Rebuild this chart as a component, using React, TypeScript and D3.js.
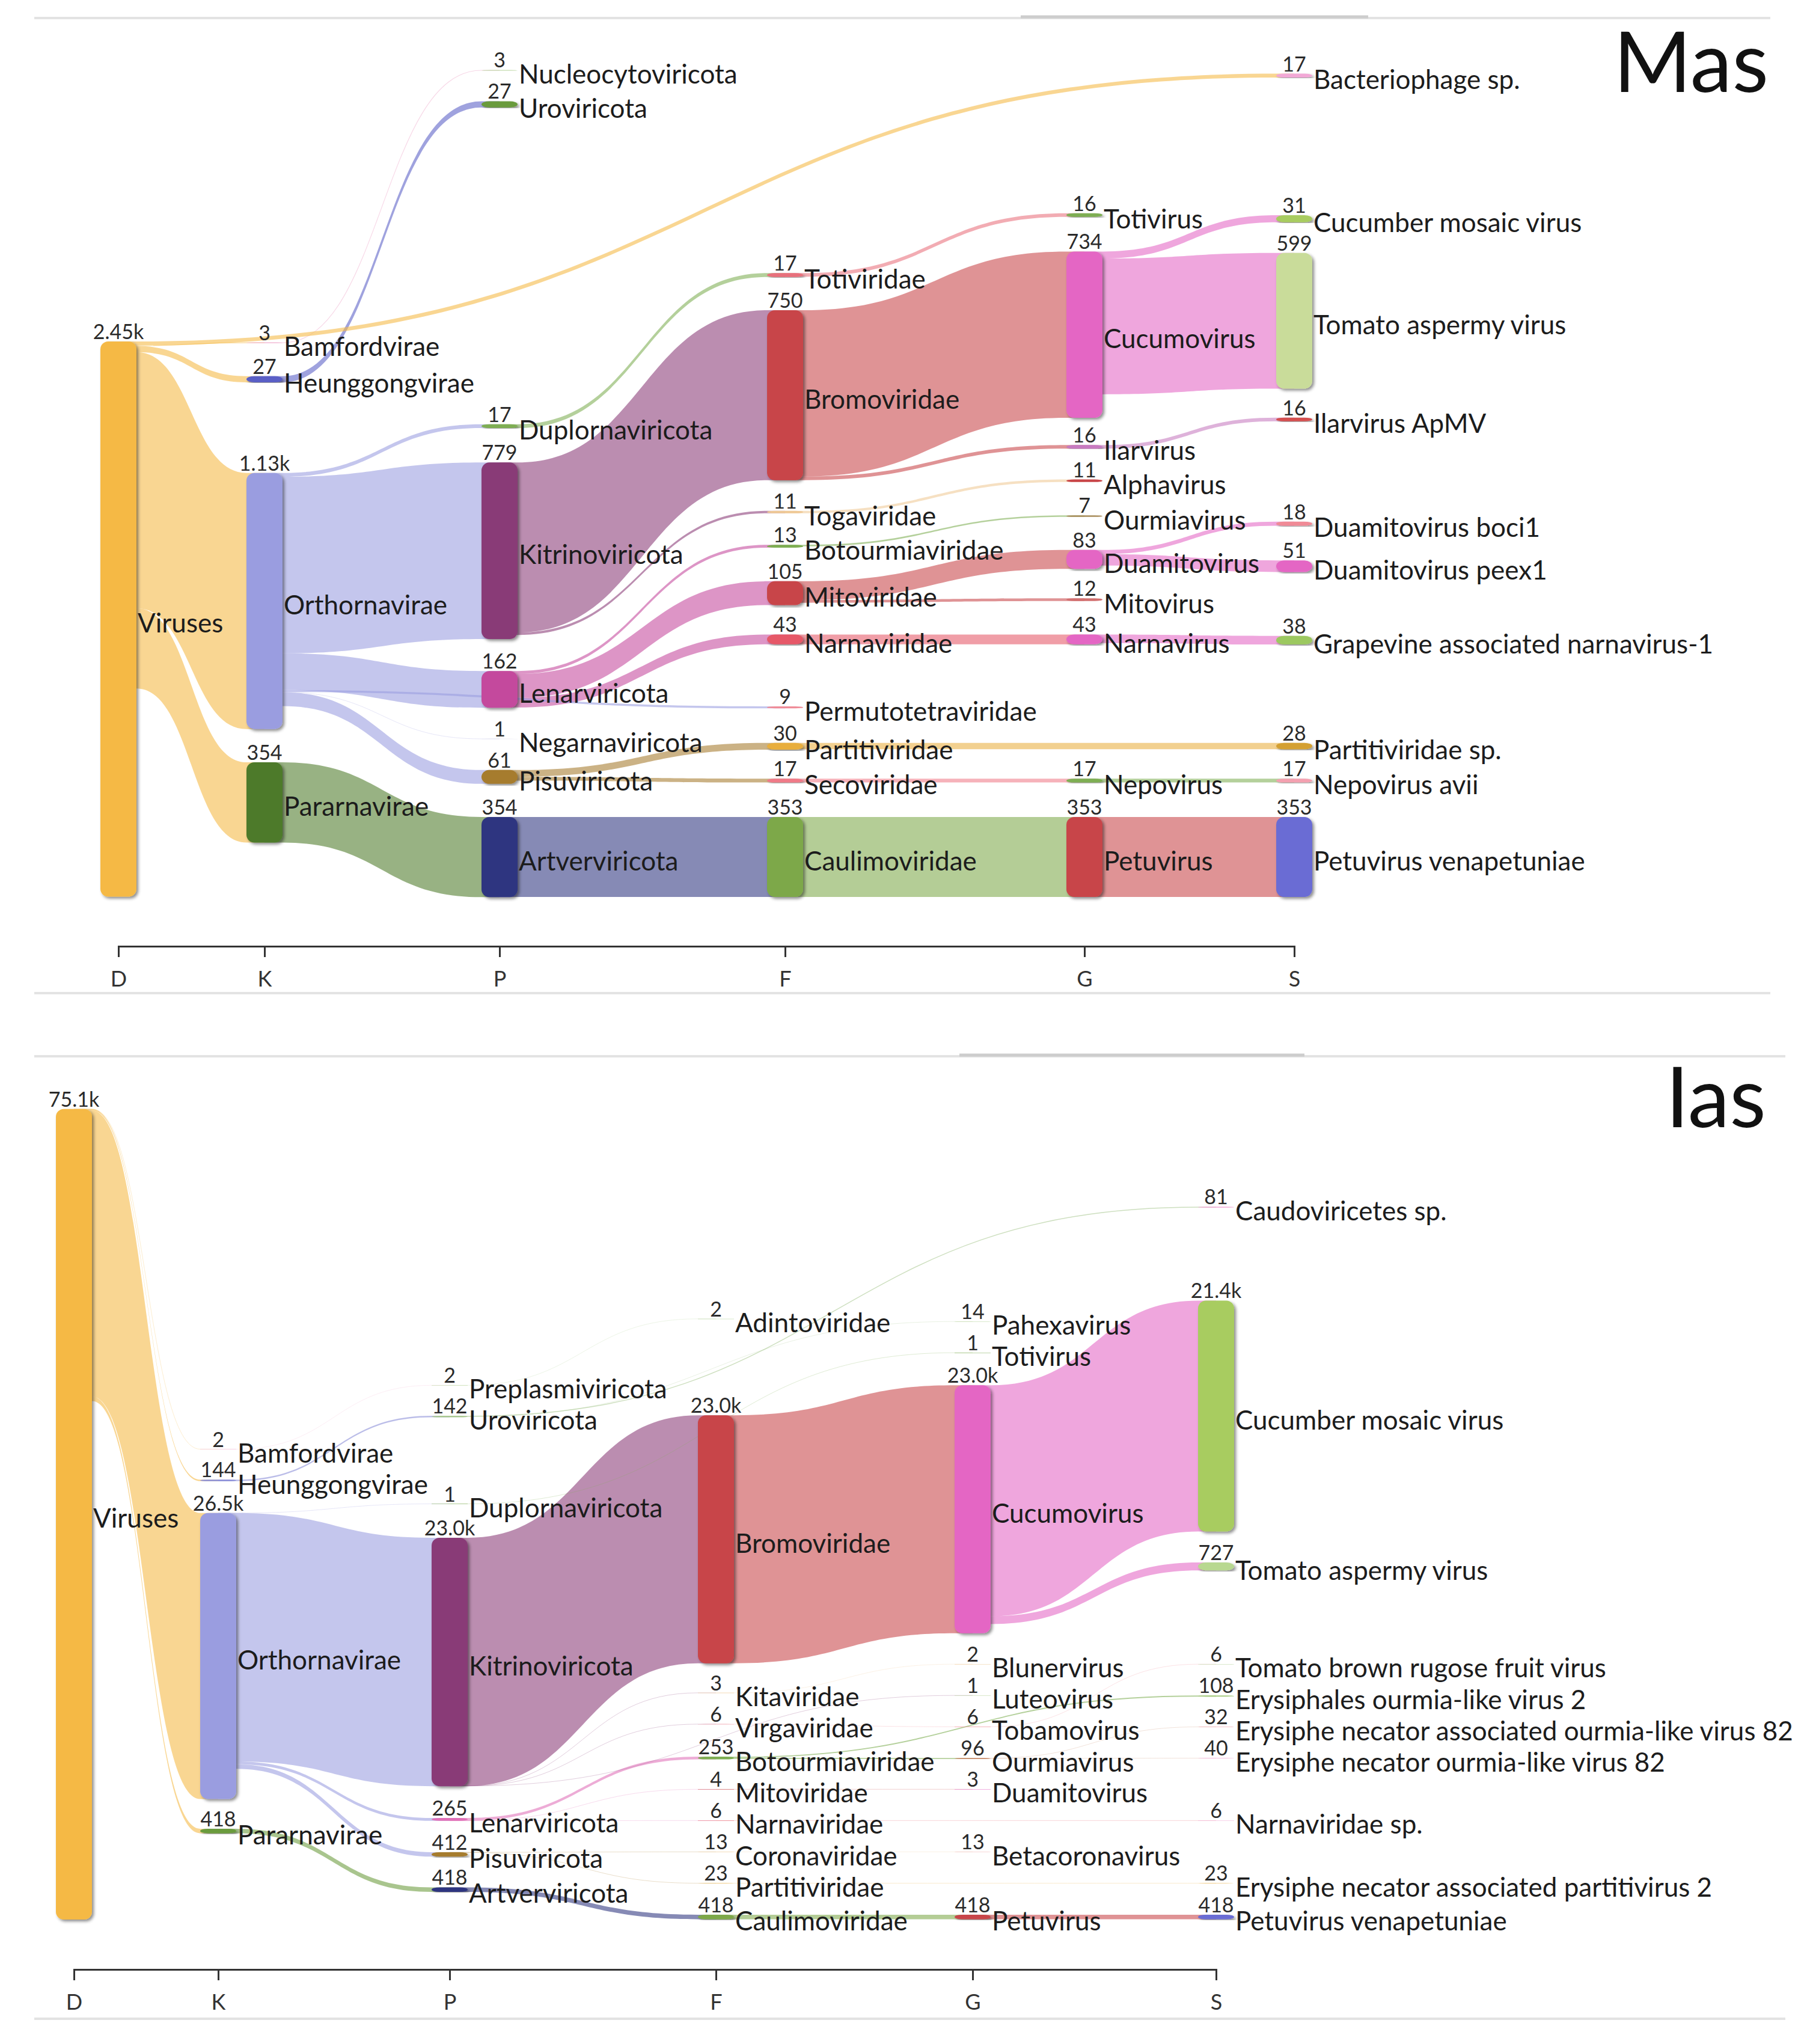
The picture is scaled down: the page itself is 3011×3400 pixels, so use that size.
import React, { useEffect, useRef } from "react";
import * as d3 from "d3";

const RANKS = ["D", "K", "P", "F", "G", "S"];

// ---------------- Mas ----------------
const masNames = [
  "Viruses",
  "Bamfordvirae", "Heunggongvirae", "Orthornavirae", "Pararnavirae",
  "Nucleocytoviricota", "Uroviricota", "Duplornaviricota", "Kitrinoviricota", "Lenarviricota", "Negarnaviricota", "Pisuviricota", "Artverviricota",
  "Totiviridae", "Bromoviridae", "Togaviridae", "Botourmiaviridae", "Mitoviridae", "Narnaviridae", "Permutotetraviridae", "Partitiviridae", "Secoviridae", "Caulimoviridae",
  "Totivirus", "Cucumovirus", "Ilarvirus", "Alphavirus", "Ourmiavirus", "Duamitovirus", "Mitovirus", "Narnavirus", "Nepovirus", "Petuvirus",
  "Bacteriophage sp.", "Cucumber mosaic virus", "Tomato aspermy virus", "Ilarvirus ApMV", "Duamitovirus boci1", "Duamitovirus peex1", "Grapevine associated narnavirus-1", "Partitiviridae sp.", "Nepovirus avii", "Petuvirus venapetuniae",
];
const masRanks = [
  "D",
  "K", "K", "K", "K",
  "P", "P", "P", "P", "P", "P", "P", "P",
  "F", "F", "F", "F", "F", "F", "F", "F", "F", "F",
  "G", "G", "G", "G", "G", "G", "G", "G", "G", "G",
  "S", "S", "S", "S", "S", "S", "S", "S", "S", "S",
];
const masValues = [
  2450,
  3, 27, 1130, 354,
  3, 27, 17, 779, 162, 1, 61, 354,
  17, 750, 11, 13, 105, 43, 9, 30, 17, 353,
  16, 734, 16, 11, 7, 83, 12, 43, 17, 353,
  17, 31, 599, 16, 18, 51, 38, 28, 17, 353,
];
const masParents = [
  "",
  "Viruses", "Viruses", "Viruses", "Viruses",
  "Bamfordvirae", "Heunggongvirae", "Orthornavirae", "Orthornavirae", "Orthornavirae", "Orthornavirae", "Orthornavirae", "Pararnavirae",
  "Duplornaviricota", "Kitrinoviricota", "Kitrinoviricota", "Lenarviricota", "Lenarviricota", "Lenarviricota", "Orthornavirae", "Pisuviricota", "Pisuviricota", "Artverviricota",
  "Totiviridae", "Bromoviridae", "Bromoviridae", "Togaviridae", "Botourmiaviridae", "Mitoviridae", "Mitoviridae", "Narnaviridae", "Secoviridae", "Caulimoviridae",
  "Viruses", "Cucumovirus", "Cucumovirus", "Ilarvirus", "Duamitovirus", "Duamitovirus", "Narnavirus", "Partitiviridae", "Nepovirus", "Petuvirus",
];

// ---------------- Ias ----------------
const iasNames = [
  "Viruses",
  "Bamfordvirae", "Heunggongvirae", "Orthornavirae", "Pararnavirae",
  "Preplasmiviricota", "Uroviricota", "Duplornaviricota", "Kitrinoviricota", "Lenarviricota", "Pisuviricota", "Artverviricota",
  "Adintoviridae", "Bromoviridae", "Kitaviridae", "Virgaviridae", "Botourmiaviridae", "Mitoviridae", "Narnaviridae", "Coronaviridae", "Partitiviridae", "Caulimoviridae",
  "Pahexavirus", "Totivirus", "Cucumovirus", "Blunervirus", "Luteovirus", "Tobamovirus", "Ourmiavirus", "Duamitovirus", "Betacoronavirus", "Petuvirus",
  "Caudoviricetes sp.", "Cucumber mosaic virus", "Tomato aspermy virus", "Tomato brown rugose fruit virus", "Erysiphales ourmia-like virus 2",
  "Erysiphe necator associated ourmia-like virus 82", "Erysiphe necator ourmia-like virus 82", "Narnaviridae sp.", "Erysiphe necator associated partitivirus 2", "Petuvirus venapetuniae",
];
const iasRanks = [
  "D",
  "K", "K", "K", "K",
  "P", "P", "P", "P", "P", "P", "P",
  "F", "F", "F", "F", "F", "F", "F", "F", "F", "F",
  "G", "G", "G", "G", "G", "G", "G", "G", "G", "G",
  "S", "S", "S", "S", "S", "S", "S", "S", "S", "S",
];
const iasValues = [
  75100,
  2, 144, 26500, 418,
  2, 142, 1, 23020, 265, 412, 418,
  2, 22990, 3, 6, 253, 4, 6, 13, 23, 418,
  14, 1, 22980, 2, 1, 6, 96, 3, 13, 418,
  81, 21400, 727, 6, 108, 32, 40, 6, 23, 418,
];
const iasParents = [
  "",
  "Viruses", "Viruses", "Viruses", "Viruses",
  "Bamfordvirae", "Heunggongvirae", "Orthornavirae", "Orthornavirae", "Orthornavirae", "Orthornavirae", "Pararnavirae",
  "Preplasmiviricota", "Kitrinoviricota", "Kitrinoviricota", "Kitrinoviricota", "Lenarviricota", "Lenarviricota", "Lenarviricota", "Pisuviricota", "Pisuviricota", "Artverviricota",
  "Uroviricota", "Duplornaviricota", "Bromoviridae", "Kitaviridae", "Kitrinoviricota", "Virgaviridae", "Botourmiaviridae", "Mitoviridae", "Coronaviridae", "Caulimoviridae",
  "Uroviricota", "Cucumovirus", "Cucumovirus", "Tobamovirus", "Botourmiaviridae", "Ourmiavirus", "Ourmiavirus", "Narnaviridae", "Partitiviridae", "Petuvirus",
];

// ---------------- layout (node tops, in read units of each chart's sankey) ----------------
const masNodeTop: Record<string, number> = {
  "Viruses": 1277,
  "Bamfordvirae": 1281, "Heunggongvirae": 1430, "Orthornavirae": 1857, "Pararnavirae": 3134,
  "Nucleocytoviricota": 79, "Uroviricota": 217, "Duplornaviricota": 1642, "Kitrinoviricota": 1811, "Lenarviricota": 2731, "Negarnaviricota": 3030, "Pisuviricota": 3168, "Artverviricota": 3375,
  "Totiviridae": 975, "Bromoviridae": 1139, "Togaviridae": 2024, "Botourmiaviridae": 2174, "Mitoviridae": 2335, "Narnaviridae": 2570, "Permutotetraviridae": 2887, "Partitiviridae": 3048, "Secoviridae": 3206, "Caulimoviridae": 3375,
  "Totivirus": 711, "Cucumovirus": 880, "Ilarvirus": 1734, "Alphavirus": 1886, "Ourmiavirus": 2044, "Duamitovirus": 2197, "Mitovirus": 2410, "Narnavirus": 2570, "Nepovirus": 3206, "Petuvirus": 3375,
  "Bacteriophage sp.": 95, "Cucumber mosaic virus": 720, "Tomato aspermy virus": 886, "Ilarvirus ApMV": 1613, "Duamitovirus boci1": 2072, "Duamitovirus peex1": 2243,
  "Grapevine associated narnavirus-1": 2576, "Partitiviridae sp.": 3048, "Nepovirus avii": 3206, "Petuvirus venapetuniae": 3375,
};
const iasNodeTop: Record<string, number> = {
  "Viruses": 1328,
  "Bamfordvirae": 32843, "Heunggongvirae": 35665, "Orthornavirae": 38759, "Pararnavirae": 68015,
  "Preplasmiviricota": 26926, "Uroviricota": 29751, "Duplornaviricota": 37914, "Kitrinoviricota": 41053, "Lenarviricota": 67013, "Pisuviricota": 70189, "Artverviricota": 73448,
  "Adintoviridae": 20768, "Bromoviridae": 29703, "Kitaviridae": 55421, "Virgaviridae": 58319, "Botourmiaviridae": 61338, "Mitoviridae": 64357, "Narnaviridae": 67254, "Coronaviridae": 70152, "Partitiviridae": 73050, "Caulimoviridae": 75984,
  "Pahexavirus": 21009, "Totivirus": 23907, "Cucumovirus": 26926, "Blunervirus": 52765, "Luteovirus": 55663, "Tobamovirus": 58561, "Ourmiavirus": 61458, "Duamitovirus": 64357, "Betacoronavirus": 70152, "Petuvirus": 75984,
  "Caudoviricetes sp.": 10384, "Cucumber mosaic virus": 19077, "Tomato aspermy virus": 43347, "Tomato brown rugose fruit virus": 52765, "Erysiphales ourmia-like virus 2": 55663,
  "Erysiphe necator associated ourmia-like virus 82": 58561, "Erysiphe necator ourmia-like virus 82": 61458, "Narnaviridae sp.": 67254, "Erysiphe necator associated partitivirus 2": 73050, "Petuvirus venapetuniae": 75984,
};

// ---------------- colours ----------------
const masColors: Record<string, string> = {
  "Viruses": "#F5B944", "Bamfordvirae": "#F2B8D4", "Heunggongvirae": "#5A5FC6", "Orthornavirae": "#9A9DE0", "Pararnavirae": "#4D7A2A",
  "Nucleocytoviricota": "#B5D39A", "Uroviricota": "#6A9B3C", "Duplornaviricota": "#7EAE52", "Kitrinoviricota": "#893A77", "Lenarviricota": "#C4489D",
  "Negarnaviricota": "#E0E0EA", "Pisuviricota": "#A67B2D", "Artverviricota": "#2F3580",
  "Totiviridae": "#E8707C", "Bromoviridae": "#C84548", "Togaviridae": "#EFC996", "Botourmiaviridae": "#7EAE52", "Mitoviridae": "#C84548",
  "Narnaviridae": "#E65868", "Permutotetraviridae": "#EF8C98", "Partitiviridae": "#E8AE3E", "Secoviridae": "#F07A88", "Caulimoviridae": "#7DA84A",
  "Totivirus": "#7EAE52", "Cucumovirus": "#E466C4", "Ilarvirus": "#C77AC0", "Alphavirus": "#C84548", "Ourmiavirus": "#A88C5A",
  "Duamitovirus": "#E466C4", "Mitovirus": "#D27070", "Narnavirus": "#E466C4", "Nepovirus": "#7EAE52", "Petuvirus": "#C84548",
  "Bacteriophage sp.": "#F2A8D6", "Cucumber mosaic virus": "#A8CC60", "Tomato aspermy virus": "#C9DC9A", "Ilarvirus ApMV": "#D45050",
  "Duamitovirus boci1": "#F08A96", "Duamitovirus peex1": "#E466C4", "Grapevine associated narnavirus-1": "#9CC860",
  "Partitiviridae sp.": "#D4A030", "Nepovirus avii": "#F4A0B0", "Petuvirus venapetuniae": "#6A6CD4",
};
const iasColors: Record<string, string> = {
  "Viruses": "#F5B944", "Bamfordvirae": "#F2B8D4", "Heunggongvirae": "#8A8ED8", "Orthornavirae": "#9A9DE0", "Pararnavirae": "#6A9B3C",
  "Preplasmiviricota": "#B5D39A", "Uroviricota": "#A8C890", "Duplornaviricota": "#7EAE52", "Kitrinoviricota": "#893A77", "Lenarviricota": "#E070B8",
  "Pisuviricota": "#A67B2D", "Artverviricota": "#2F3580",
  "Adintoviridae": "#B5D39A", "Bromoviridae": "#C84548", "Kitaviridae": "#EFC996", "Virgaviridae": "#F08A96", "Botourmiaviridae": "#7EAE52",
  "Mitoviridae": "#C84548", "Narnaviridae": "#E65868", "Coronaviridae": "#EFC996", "Partitiviridae": "#E8AE3E", "Caulimoviridae": "#7DA84A",
  "Pahexavirus": "#B5D39A", "Totivirus": "#7EAE52", "Cucumovirus": "#E466C4", "Blunervirus": "#EFC996", "Luteovirus": "#B5D39A",
  "Tobamovirus": "#F08A96", "Ourmiavirus": "#C88A6A", "Duamitovirus": "#E466C4", "Betacoronavirus": "#F0B0B0", "Petuvirus": "#C84548",
  "Caudoviricetes sp.": "#F2A8D6", "Cucumber mosaic virus": "#A8CC60", "Tomato aspermy virus": "#B8D890", "Tomato brown rugose fruit virus": "#B5D39A",
  "Erysiphales ourmia-like virus 2": "#A8CC80", "Erysiphe necator associated ourmia-like virus 82": "#F08A96",
  "Erysiphe necator ourmia-like virus 82": "#F2A8D6", "Narnaviridae sp.": "#F2A8D6", "Erysiphe necator associated partitivirus 2": "#E8AE3E",
  "Petuvirus venapetuniae": "#6A6CD4",
};

const FONT = "Lato, 'Open Sans', sans-serif";
const NODE_W = 60;

const charts = [
  {
    id: "mas", title: "Mas", titleX: 2942, titleY: 153,
    names: masNames, ranks: masRanks, values: masValues, parents: masParents, tops: masNodeTop, colors: masColors,
    colX: [197, 440, 831, 1306, 1804, 2153],
    span: 3800, y0: 86.7, y1: 1519.1,
    axisY: 1574, lineTop: 30, segX: [1698, 2276], lineBottom: 1652, lineEnd: 2945,
  },
  {
    id: "ias", title: "Ias", titleX: 2938, titleY: 1875,
    names: iasNames, ranks: iasRanks, values: iasValues, parents: iasParents, tops: iasNodeTop, colors: iasColors,
    colX: [123, 363, 748, 1191, 1618, 2023],
    span: 80000, y0: 1820.9, y1: 3257.1,
    axisY: 3276, lineTop: 1757, segX: [1596, 2170], lineBottom: 3358, lineEnd: 2970,
  },
];

function fmt(v: number) {
  return v >= 1000 ? d3.format(".3s")(v) : String(v);
}

function ribbon(sx: number, sxEdge: number, sTop: number, tx: number, txEdge: number, tTop: number, w: number) {
  const p = d3.path();
  const xm = (sxEdge + txEdge) / 2;
  p.moveTo(sx, sTop);
  p.lineTo(sxEdge, sTop);
  p.bezierCurveTo(xm, sTop, xm, tTop, txEdge, tTop);
  p.lineTo(tx, tTop);
  p.lineTo(tx, tTop + w);
  p.lineTo(txEdge, tTop + w);
  p.bezierCurveTo(xm, tTop + w, xm, sTop + w, sxEdge, sTop + w);
  p.lineTo(sx, sTop + w);
  p.closePath();
  return p.toString();
}

function curve(sx: number, sxEdge: number, sy: number, tx: number, txEdge: number, ty: number) {
  const p = d3.path();
  const xm = (sxEdge + txEdge) / 2;
  p.moveTo(sx, sy);
  p.lineTo(sxEdge, sy);
  p.bezierCurveTo(xm, sy, xm, ty, txEdge, ty);
  p.lineTo(tx, ty);
  return p.toString();
}

function Sankey({ cfg }: { cfg: any }) {
  const axisRef = useRef<SVGGElement>(null);
  const x = d3.scaleOrdinal<string, number>().domain(RANKS).range(cfg.colX);
  const y = d3.scaleLinear().domain([0, cfg.span]).range([cfg.y0, cfg.y1]);
  const thick = (v: number) => y(v) - y(0);

  const nodes = cfg.names.map((name: string, i: number) => {
    const cx = x(cfg.ranks[i]);
    return {
      name,
      value: cfg.values[i],
      parent: cfg.parents[i],
      cx,
      x0: cx - NODE_W / 2,
      x1: cx + NODE_W / 2,
      y0: y(cfg.tops[name]),
      h: thick(cfg.values[i]),
      color: cfg.colors[name] || "#cccccc",
    };
  });
  const byName = new Map<string, any>(nodes.map((n: any) => [n.name, n]));
  const links = nodes
    .filter((n: any) => n.parent)
    .map((n: any) => ({ source: byName.get(n.parent), target: n, w: thick(n.value) }));
  nodes.forEach((n: any) => {
    const out = links.filter((l: any) => l.source === n).sort((a: any, b: any) => a.target.y0 - b.target.y0);
    let off = n.y0;
    out.forEach((l: any) => {
      l.sTop = off;
      off += l.w;
    });
  });
  links.forEach((l: any) => {
    l.tTop = l.target.y0;
  });

  useEffect(() => {
    if (!axisRef.current) return;
    const g = d3.select(axisRef.current);
    g.selectAll("*").remove();
    g.call(d3.axisBottom(x as any).tickSize(18).tickSizeOuter(18).tickPadding(23) as any);
    g.select(".domain").attr("stroke", "#333").attr("stroke-width", 3);
    g.selectAll(".tick line").attr("stroke", "#333").attr("stroke-width", 3);
    g.selectAll(".tick text").attr("font-size", 36).attr("font-family", FONT).attr("fill", "#333");
    g.attr("font-family", FONT);
  });

  const shadowId = `shadow-${cfg.id}`;

  return (
    <g>
      <defs>
        <filter id={shadowId} x="-50%" y="-10%" width="200%" height="120%">
          <feDropShadow dx={3} dy={3} stdDeviation={2.5} floodColor="#000" floodOpacity={0.45} />
        </filter>
      </defs>
      <line x1={57} x2={cfg.lineEnd} y1={cfg.lineTop} y2={cfg.lineTop} stroke="#E3E3E3" strokeWidth={4} />
      <line x1={cfg.segX[0]} x2={cfg.segX[1]} y1={cfg.lineTop - 2} y2={cfg.lineTop - 2} stroke="#CDCDCD" strokeWidth={5} />
      <line x1={57} x2={cfg.lineEnd} y1={cfg.lineBottom} y2={cfg.lineBottom} stroke="#E3E3E3" strokeWidth={4} />
      <text x={cfg.titleX} y={cfg.titleY} textAnchor="end" fontFamily={FONT} fontWeight={400} fontSize={140} fill="#111">
        {cfg.title}
      </text>
      <g>
        {links.map((l: any, i: number) =>
          l.w > 2.5 ? (
            <path
              key={i}
              d={ribbon(l.source.cx, l.source.x1, l.sTop, l.target.cx, l.target.x0, l.tTop, l.w)}
              fill={l.source.color}
              fillOpacity={0.58}
              stroke="none"
            />
          ) : (
            <path
              key={i}
              d={curve(l.source.cx, l.source.x1, l.sTop + l.w / 2, l.target.cx, l.target.x0, l.tTop + l.w / 2)}
              fill="none"
              stroke={l.source.color}
              strokeOpacity={l.w < 1 ? 0.25 : 0.58}
              strokeWidth={Math.max(l.w, 1)}
            />
          )
        )}
      </g>
      <g>
        {nodes.map((n: any) => (
          <rect
            key={n.name}
            x={n.x0}
            y={n.y0}
            width={NODE_W}
            height={Math.max(n.h, 0.5)}
            rx={13}
            ry={Math.min(13, n.h / 2)}
            fill={n.color}
            filter={n.h > 6 ? `url(#${shadowId})` : undefined}
          />
        ))}
      </g>
      <g fontFamily={FONT} fill="#1c1c1c">
        {nodes.map((n: any) => (
          <g key={n.name}>
            <text x={n.cx} y={n.y0 - 4} textAnchor="middle" fontSize={34} fill="#2a2a2a">
              {fmt(n.value)}
            </text>
            <text x={n.x1 + 2} y={n.y0 + n.h / 2 + 11} dominantBaseline="middle" fontSize={44}>
              {n.name}
            </text>
          </g>
        ))}
      </g>
      <g ref={axisRef} transform={`translate(0,${cfg.axisY})`} />
    </g>
  );
}

export default function App() {
  return (
    <svg
      width={3011}
      height={3400}
      style={{ position: "absolute", left: 0, top: 0, background: "#fff" }}
    >
      <rect x={0} y={0} width={3011} height={3400} fill="#fff" />
      {charts.map((c) => (
        <Sankey key={c.id} cfg={c} />
      ))}
    </svg>
  );
}
